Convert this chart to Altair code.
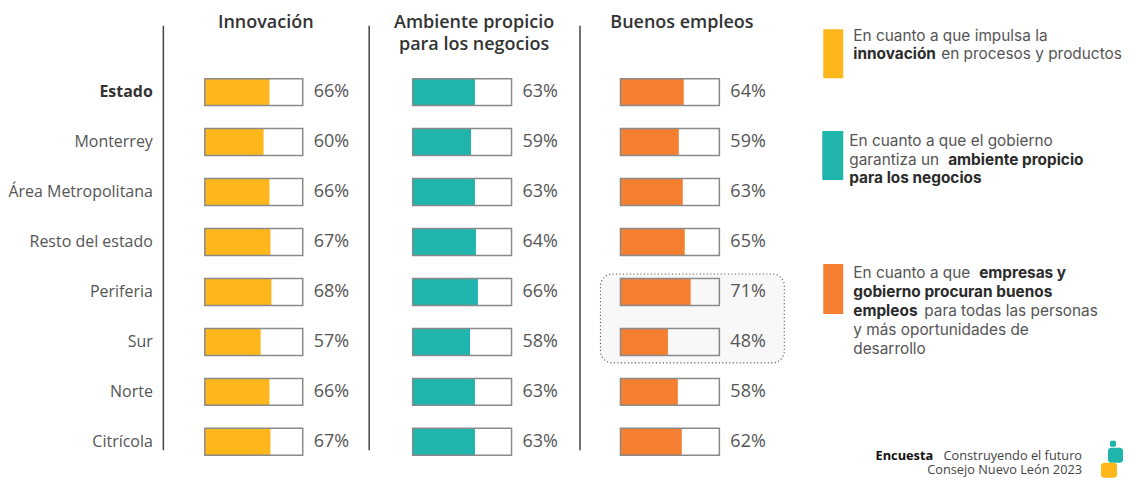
import altair as alt
import pandas as pd

# ---------------- data ----------------
regions = ["Estado", "Monterrey", "Área Metropolitana", "Resto del estado",
           "Periferia", "Sur", "Norte", "Citrícola"]
innovacion = [66, 60, 66, 67, 68, 57, 66, 67]
ambiente = [63, 59, 63, 64, 66, 58, 63, 63]
empleos = [64, 59, 63, 65, 71, 48, 58, 62]
metric_keys = ["innovacion", "ambiente", "empleos"]
panel_titles = [["Innovación"],
                ["Ambiente propicio", "para los negocios"],
                ["Buenos empleos"]]
bar_colors = ["#FDB71A", "#1FB5AC", "#F47F30"]
bold_regions = ["Estado"]
highlight_regions = ["Periferia", "Sur"]
highlight_metric = "empleos"

legend_blocks = [
    [[("En cuanto a que impulsa la", False)],
     [("innovación", True), ("en procesos y productos", False)]],
    [[("En cuanto a que el gobierno", False)],
     [("garantiza  un", False), ("ambiente propicio", True)],
     [("para los negocios", True)]],
    [[("En cuanto a que", False), ("empresas y", True)],
     [("gobierno procuran buenos", True)],
     [("empleos", True), ("para todas las personas", False)],
     [("y más oportunidades de", False)],
     [("desarrollo", False)]],
]
footer_bold = "Encuesta"
footer_line1 = "Construyendo el futuro"
footer_line2 = "Consejo Nuevo León 2023"

# ---------------- table ----------------
rows = []
for key, vals in zip(metric_keys, [innovacion, ambiente, empleos]):
    for i, (r, v) in enumerate(zip(regions, vals)):
        rows.append({"metric": key, "region": r, "row": i, "value": v,
                     "zero": 0, "full": 100, "label": f"{v}%"})
df = pd.DataFrame(rows)
dummy = pd.DataFrame({"a": [0]})

FONT = "Open Sans"
LFONT = "Inter"
TEXT = "#555555"
DARK = "#333333"
H = 456

# rows sit 50px apart; axis line (scale range) runs from 17 to 442 px
ysc = alt.Scale(domain=[-1.34, 7.16], range=[17, 442], nice=False, zero=False, padding=0)
yax = alt.Axis(labels=False, ticks=False, grid=False, title=None,
               domainColor="#444444", domainWidth=1.5)


def panel(k, width, x_range):
    key = metric_keys[k]
    base = alt.Chart(df).transform_filter(alt.datum.metric == key)
    y = alt.Y("row:Q", scale=ysc, axis=yax)
    xsc = alt.Scale(domain=[0, 100], range=x_range, nice=False, zero=False, padding=0)
    x0 = alt.X("zero:Q", scale=xsc, axis=None)
    layers = []
    if key == highlight_metric:
        hl = (base.transform_filter(alt.FieldOneOfPredicate(field="region", oneOf=highlight_regions))
              .transform_aggregate(lo="min(row)", hi="max(row)")
              .mark_rect(fill="#f8f8f8", stroke="#444444", strokeWidth=1.1,
                         strokeDash=[1, 2.5], cornerRadius=12, yOffset=-18, y2Offset=21)
              .encode(x=alt.value(21), x2=alt.value(205),
                      y=alt.Y("lo:Q", scale=ysc, axis=yax), y2="hi:Q"))
        layers.append(hl)
    fill = base.mark_bar(orient="horizontal", size=27, color=bar_colors[k]).encode(
        x=x0, x2="value:Q", y=y)
    outline = base.mark_bar(orient="horizontal", size=27, fillOpacity=0,
                            stroke="#8a8a8a", strokeWidth=1.5).encode(
        x=x0, x2="full:Q", y=y)
    pct = base.mark_text(align="left", baseline="middle", dx=11, font=FONT,
                         fontSize=18, color=TEXT).encode(
        x=alt.X(datum=100, scale=xsc, axis=None), y=y, text="label:N")
    layers += [fill, outline, pct]
    if k == 0:
        lab = (base.transform_filter(~alt.FieldOneOfPredicate(field="region", oneOf=bold_regions))
               .mark_text(align="right", baseline="middle", dx=-10, font=FONT,
                          fontSize=16, color=TEXT)
               .encode(x=alt.value(0), y=y, text="region:N"))
        labb = (base.transform_filter(alt.FieldOneOfPredicate(field="region", oneOf=bold_regions))
                .mark_text(align="right", baseline="middle", dx=-10, font=FONT,
                           fontSize=16, fontWeight="bold", color=DARK)
                .encode(x=alt.value(0), y=y, text="region:N"))
        layers += [lab, labb]
    for li, line in enumerate(panel_titles[k]):
        layers.append(alt.Chart(dummy).mark_text(
            align="center", baseline="middle", font=FONT, fontSize=18,
            fontWeight=600, color=DARK).encode(
            x=alt.value(width / 2), y=alt.value(15 + 22 * li), text=alt.value(line)))
    return alt.layer(*layers).properties(width=width, height=H)


pA = panel(0, 206, [42, 140])
pB = panel(1, 211, [44, 143])
pC = panel(2, 205, [41, 140])

# ---------------- legend panel ----------------
sw_boxes = [(38, 58, 21, 70), (37, 58, 123, 172), (38, 58, 256, 306)]
seg_x = [[[68], [68, 156]],
         [[64], [64, 163], [64]],
         [[68, 194], [68], [68, 139], [68], [68]]]
block_y0 = [27.5, 133.3, 265.3]
line_step = [18.5, 18.5, 19]

leg_layers = []
for b, (x1, x2, y1, y2) in enumerate(sw_boxes):
    leg_layers.append(alt.Chart(dummy).mark_rect(color=bar_colors[b]).encode(
        x=alt.value(x1), x2=alt.value(x2), y=alt.value(y1), y2=alt.value(y2)))
for b, block in enumerate(legend_blocks):
    for li, line in enumerate(block):
        for si, (txt, bold) in enumerate(line):
            leg_layers.append(alt.Chart(dummy).mark_text(
                align="left", baseline="middle", font=LFONT, fontSize=15.4,
                fontWeight="bold" if bold else "normal",
                color="#2b2b2b" if bold else TEXT).encode(
                x=alt.value(seg_x[b][li][si]),
                y=alt.value(block_y0[b] + li * line_step[b]),
                text=alt.value(txt)))

# footer
leg_layers.append(alt.Chart(dummy).mark_text(
    align="right", baseline="middle", font=FONT, fontSize=12.8, color="#444444").encode(
    x=alt.value(297), y=alt.value(448.6), text=alt.value(footer_line1)))
leg_layers.append(alt.Chart(dummy).mark_text(
    align="right", baseline="middle", font=FONT, fontSize=12.8, fontWeight="bold",
    color="#111111").encode(
    x=alt.value(148), y=alt.value(448.6), text=alt.value(footer_bold)))
leg_layers.append(alt.Chart(dummy).mark_text(
    align="right", baseline="middle", font=FONT, fontSize=12.8, color="#444444").encode(
    x=alt.value(297), y=alt.value(462.6), text=alt.value(footer_line2)))
# logo
leg_layers.append(alt.Chart(dummy).mark_rect(color=bar_colors[1], cornerRadius=1.5).encode(
    x=alt.value(325), x2=alt.value(331), y=alt.value(433), y2=alt.value(439)))
leg_layers.append(alt.Chart(dummy).mark_rect(color=bar_colors[1], cornerRadius=3).encode(
    x=alt.value(323), x2=alt.value(338), y=alt.value(440), y2=alt.value(455)))
leg_layers.append(alt.Chart(dummy).mark_rect(color=bar_colors[0], cornerRadius=3).encode(
    x=alt.value(316), x2=alt.value(332), y=alt.value(455), y2=alt.value(470)))

pD = alt.layer(*leg_layers).properties(width=338, height=H)

chart = (alt.hconcat(pA, pB, pC, pD, spacing=0)
         .properties(padding={"left": 0, "top": 0, "right": 0, "bottom": 0})
         .configure_view(stroke=None))

chart.save("out.html", embed_options={"renderer": "svg", "actions": False})
